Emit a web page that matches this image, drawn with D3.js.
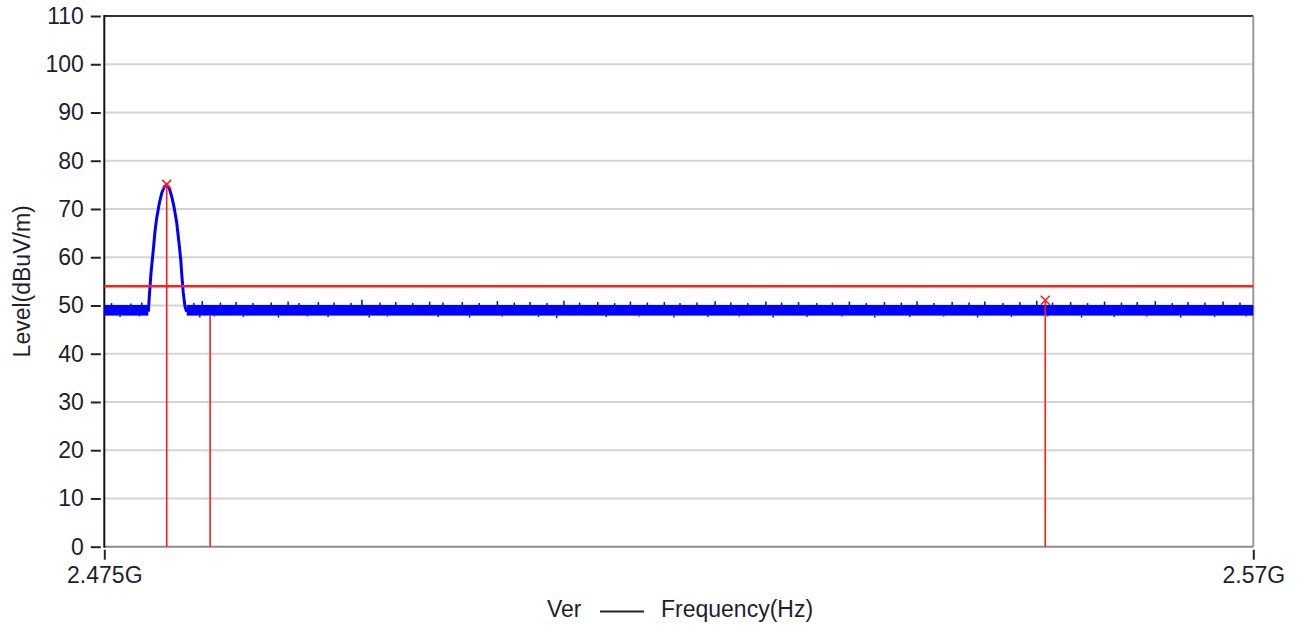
<!DOCTYPE html>
<html><head><meta charset="utf-8">
<script src="https://cdn.jsdelivr.net/npm/d3@7"></script>
<style>
html,body{margin:0;padding:0;background:#fff;}
svg{display:block;}
text{font-family:"Liberation Sans",Arial,sans-serif;fill:#1e1e2e;}
</style></head><body>
<svg id="c" width="1298" height="626"></svg>
<script>
// ---- data ----
const xDomain = [2475, 2570];            // MHz
const yDomain = [0, 110];                // dBuV/m
const yTicks = [0,10,20,30,40,50,60,70,80,90,100,110];
const xTicks = [2475, 2570];
const xTickLabels = ["2.475G", "2.57G"];
const limitLevel = 54;
// peak of the trace (MHz, dBuV/m)
const peakFreq  = [2478.64,2478.72,2478.86,2479.05,2479.19,2479.33,2479.55,2479.75,2479.96,2480.16,2480.37,2480.57,2480.76,2480.99,2481.18,2481.32,2481.42,2481.53,2481.67,2481.81];
const peakLevel = [48.7,51.8,56.7,61.5,65.3,68.1,71.2,73.3,74.6,75.0,74.3,72.6,70.5,67.1,62.9,59.5,56.0,52.6,49.8,48.7];
// noise floor segments (MHz) and band levels
const floorStart = [2475.0, 2481.81];
const floorEnd   = [2478.64, 2570.0];
const floorLo = 47.9, floorHi = 50.1;
const upFreq  = [2475.6,2477.2,2478.1,2482.4,2483.1,2484.6,2485.9,2487.3,2488.8,2490.2,2491.1,2492.7,2494.0,2495.4,2496.3,2497.8,2499.1,2500.5,2501.9,2503.0,2504.6,2506.0,2507.5,2508.9,2510.2,2511.6,2513.0,2514.3,2515.8,2517.2,2518.5,2519.9,2521.3,2522.6,2524.0,2525.5,2526.8,2528.2,2529.7,2531.0,2532.4,2533.9,2535.2,2536.6,2538.0,2539.5,2540.9,2542.2,2543.6,2545.1,2546.5,2547.8,2549.3,2550.7,2552.1,2553.4,2554.9,2556.3,2557.7,2559.1,2560.4,2561.9,2563.3,2564.6,2566.0,2567.5,2568.9];
const upLevel = [50.5,50.4,50.6,50.5,50.9,50.6,50.7,50.5,50.6,50.8,50.5,50.7,50.6,50.5,51.2,50.6,50.7,50.5,50.8,50.6,50.7,50.5,50.9,50.6,50.7,50.5,51.0,50.6,50.7,50.5,50.8,50.6,50.7,50.5,50.6,50.9,50.6,50.5,50.8,50.6,50.7,50.5,50.6,50.8,50.5,50.7,50.6,50.9,50.5,50.7,50.6,50.8,50.5,50.7,51.0,50.6,50.7,50.5,50.8,50.6,50.7,50.9,50.5,50.7,50.6,50.8,50.6];
const downFreq  = [2476.3,2477.9,2482.9,2484.1,2486.5,2489.4,2491.8,2493.5,2496.9,2498.4,2502.6,2505.2,2507.9,2510.9,2512.4,2516.5,2519.2,2522.1,2524.9,2527.5,2530.3,2533.1,2536.0,2538.7,2541.6,2544.4,2547.2,2550.0,2553.0,2555.8,2558.5,2561.2,2564.0,2566.8,2569.4];
const downLevel = [47.6,47.7,47.5,47.7,47.6,47.5,47.7,47.6,47.5,47.7,47.6,47.5,47.7,47.6,47.4,47.6,47.7,47.5,47.6,47.7,47.5,47.6,47.7,47.5,47.6,47.7,47.5,47.6,47.7,47.5,47.6,47.7,47.5,47.6,47.7];
// markers
const markerFreq  = [2480.16, 2483.75, 2552.8];
const markerLevel = [75.1, 47.9, 51.1];
const markerShown = [true, false, true];

// ---- chart ----
const FS = 23;
const L = 104.3, R = 1253.3, T = 16, B = 546.7;
const x = d3.scaleLinear().domain(xDomain).range([L, R]);
const y = d3.scaleLinear().domain(yDomain).range([B, T]);
const svg = d3.select("#c");

// grid
svg.append("g").selectAll("line").data(yTicks.filter(v => v > 0 && v < 110)).join("line")
  .attr("x1", L).attr("x2", R).attr("y1", d => y(d)).attr("y2", d => y(d))
  .attr("stroke", "#d4d4d4").attr("stroke-width", 2);

// y axis ticks/labels
const ya = svg.append("g").attr("transform", `translate(${L-3.5},0)`)
  .call(d3.axisLeft(y).tickValues(yTicks).tickSize(10).tickSizeOuter(0).tickPadding(7));
ya.select(".domain").remove();
ya.selectAll(".tick line").attr("stroke", "#222").attr("stroke-width", 2);
ya.selectAll(".tick text").attr("font-size", FS).attr("font-family", null).attr("fill", "#1e1e2e");

// x axis ticks/labels
const xa = svg.append("g").attr("transform", `translate(0,${B+3})`)
  .call(d3.axisBottom(x).tickValues(xTicks).tickSize(10).tickSizeOuter(0).tickFormat((d,i) => xTickLabels[i]).tickPadding(7));
xa.select(".domain").remove();
xa.selectAll(".tick line").attr("stroke", "#222").attr("stroke-width", 2);
xa.selectAll(".tick text").attr("font-size", FS).attr("font-family", null).attr("fill", "#1e1e2e");

// frame
svg.append("line").attr("x1", L).attr("x2", R).attr("y1", T).attr("y2", T).attr("stroke", "#333").attr("stroke-width", 2);
svg.append("line").attr("x1", R).attr("x2", R).attr("y1", T).attr("y2", B).attr("stroke", "#999").attr("stroke-width", 2);
svg.append("line").attr("x1", L).attr("x2", R).attr("y1", B).attr("y2", B).attr("stroke", "#8c8c8c").attr("stroke-width", 2);
svg.append("line").attr("x1", L).attr("x2", L).attr("y1", T-1).attr("y2", B+1).attr("stroke", "#111").attr("stroke-width", 2);

// trace: noise band
const blue = "#0000ff";
const tr = svg.append("g");
tr.selectAll("rect.band").data(floorStart.map((s,i) => [s, floorEnd[i]])).join("rect")
  .attr("x", d => x(d[0])).attr("width", d => x(d[1]) - x(d[0]))
  .attr("y", y(floorHi)).attr("height", y(floorLo) - y(floorHi)).attr("fill", blue);
tr.selectAll("line.up").data(upFreq.map((f,i) => [f, upLevel[i]])).join("line")
  .attr("x1", d => x(d[0])).attr("x2", d => x(d[0]))
  .attr("y1", y(floorHi)).attr("y2", d => y(d[1])).attr("stroke", blue).attr("stroke-width", 1.5);
tr.selectAll("line.dn").data(downFreq.map((f,i) => [f, downLevel[i]])).join("line")
  .attr("x1", d => x(d[0])).attr("x2", d => x(d[0]))
  .attr("y1", y(floorLo)).attr("y2", d => y(d[1])).attr("stroke", blue).attr("stroke-width", 1.5);
// peak
tr.append("path").datum(peakFreq.map((f,i) => [f, peakLevel[i]]))
  .attr("d", d3.line().x(d => x(d[0])).y(d => y(d[1])))
  .attr("fill", "none").attr("stroke", blue).attr("stroke-width", 3).attr("stroke-linejoin", "round");

// limit line
svg.append("line").attr("x1", L).attr("x2", R).attr("y1", y(limitLevel)).attr("y2", y(limitLevel))
  .attr("stroke", "#ff2020").attr("stroke-width", 2.5);

// marker lines
const red = "#ff1a1a";
svg.append("g").selectAll("line").data(markerFreq.map((f,i) => [f, markerLevel[i]])).join("line")
  .attr("x1", d => x(d[0])).attr("x2", d => x(d[0])).attr("y1", y(0)).attr("y2", d => y(d[1]))
  .attr("stroke", red).attr("stroke-width", 1.6);
const mk = svg.append("g").selectAll("g").data(markerFreq.map((f,i) => [f, markerLevel[i], markerShown[i]]).filter(d => d[2])).join("g")
  .attr("transform", d => `translate(${x(d[0])},${y(d[1])})`);
mk.append("path").attr("d", "M-4.5,-4.5L4.5,4.5M-4.5,4.5L4.5,-4.5").attr("stroke", red).attr("stroke-width", 1.5).attr("fill", "none");

// y title
svg.append("text").attr("transform", `translate(30,${(T+B)/2}) rotate(-90)`)
  .attr("text-anchor", "middle").attr("font-size", FS).text("Level(dBuV/m)");

// legend
svg.append("text").attr("x", 547).attr("y", 617).attr("font-size", FS).text("Ver");
svg.append("line").attr("x1", 600).attr("x2", 644).attr("y1", 611.5).attr("y2", 611.5).attr("stroke", "#222").attr("stroke-width", 2);
svg.append("text").attr("x", 661).attr("y", 617).attr("font-size", FS).text("Frequency(Hz)");
</script>
</body></html>
